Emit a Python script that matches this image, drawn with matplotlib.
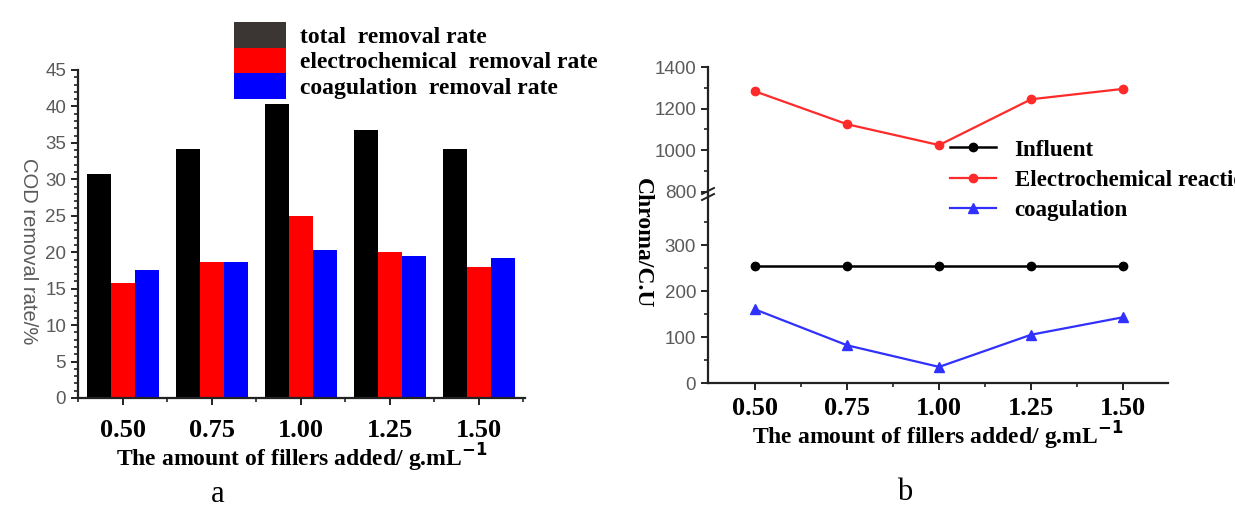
import matplotlib
matplotlib.use("Agg")
import matplotlib.pyplot as plt
import numpy as np
from matplotlib.ticker import MultipleLocator, FixedLocator

# data (a): COD removal rate / %
fillers = [0.50, 0.75, 1.00, 1.25, 1.50]
tick_labels = ["0.50", "0.75", "1.00", "1.25", "1.50"]
total_rate = [30.8, 34.1, 40.3, 36.7, 34.1]
electro_rate = [15.8, 18.6, 25.0, 20.0, 18.0]
coag_rate = [17.6, 18.6, 20.3, 19.5, 19.2]

# data (b): chroma / C.U
influent = [255, 255, 255, 255, 255]
electro_chroma = [1283, 1125, 1025, 1245, 1295]
coag_chroma = [160, 82, 35, 105, 143]

SERIF = "Liberation Serif"
SANS = "Liberation Sans"
GRAY = "#5a5a5a"

fig = plt.figure(figsize=(12.35, 5.08), dpi=100)
W, H = 1235, 508


def px_axes(x0, y0, x1, y1):
    # pixel box (top-left origin) -> figure fraction
    return fig.add_axes([x0 / W, 1 - y1 / H, (x1 - x0) / W, (y1 - y0) / H])


def style_axis(ax):
    for s in ["top", "right"]:
        ax.spines[s].set_visible(False)
    for s in ["left", "bottom"]:
        ax.spines[s].set_linewidth(1.6)
        ax.spines[s].set_color("#222222")
    ax.tick_params(which="major", direction="out", length=5, width=1.4, color="#222222")
    ax.tick_params(which="minor", direction="out", length=3, width=1.2, color="#222222")
    ax.tick_params(axis="y", labelsize=13.5, labelcolor=GRAY)
    for lab in ax.get_yticklabels():
        lab.set_fontfamily(SANS)


# ---------------- (a) bar chart ----------------
axa = px_axes(78, 70, 525, 398)
w = 0.067
x = np.array(fillers)
axa.bar(x - w, total_rate, w, color="black", label="total  removal rate")
axa.bar(x, electro_rate, w, color="#ff0000", label="electrochemical  removal rate")
axa.bar(x + w, coag_rate, w, color="#0000ff", label="coagulation  removal rate")
axa.set_xlim(0.374, 1.63)
axa.set_ylim(0, 45)
axa.yaxis.set_major_locator(MultipleLocator(5))
axa.yaxis.set_minor_locator(MultipleLocator(1))
axa.xaxis.set_major_locator(FixedLocator(fillers))
axa.xaxis.set_minor_locator(FixedLocator([0.375, 0.625, 0.875, 1.125, 1.375, 1.625]))
style_axis(axa)
axa.set_xticklabels(tick_labels, fontfamily=SERIF, fontweight="bold", fontsize=19)
axa.tick_params(axis="x", pad=10)
axa.set_xlabel("The amount of fillers added/ g.mL$^{\\mathbf{-1}}$", fontfamily=SERIF,
               fontweight="bold", fontsize=17, labelpad=0)
fig.text(28 / W, 1 - 251 / H, "COD removal rate/%", fontfamily=SANS, color=GRAY,
         fontsize=14.5, rotation=270, ha="center", va="center")
leg = axa.legend(loc="upper left", bbox_to_anchor=(222 / W, 1 - 10 / H),
                 bbox_transform=fig.transFigure, frameon=False, borderpad=0,
                 handlelength=2.2, handleheight=1.3, labelspacing=0.0, handletextpad=0.6,
                 prop={"family": SERIF, "weight": "bold", "size": 17})
leg.legend_handles[0].set_facecolor("#3b3634")
fig.text(218 / W, 1 - 495 / H, "a", fontfamily=SERIF, fontsize=22, ha="center", va="center")

# ---------------- (b) line chart with broken y axis ----------------
axt = px_axes(708, 67, 1168, 194)
axb = px_axes(708, 194, 1168, 383)

for ax in (axt, axb):
    ax.plot(fillers, influent, color="black", lw=1.8, marker="o", ms=6, label="Influent")
    ax.plot(fillers, electro_chroma, color="#ff2a2a", lw=1.6, marker="o", ms=6,
            label="Electrochemical reaction")
    ax.plot(fillers, coag_chroma, color="#3030ff", lw=1.6, marker="^", ms=7,
            label="coagulation")
    ax.set_xlim(0.372, 1.622)
    ax.xaxis.set_major_locator(FixedLocator(fillers))
    ax.xaxis.set_minor_locator(FixedLocator([0.625, 0.875, 1.125, 1.375, 1.625]))
    style_axis(ax)

axt.set_ylim(790, 1400)
axt.yaxis.set_major_locator(FixedLocator([800, 1000, 1200, 1400]))
axt.yaxis.set_minor_locator(FixedLocator([900, 1100, 1300]))
axt.spines["bottom"].set_visible(False)
axt.tick_params(axis="x", which="both", bottom=False, labelbottom=False)

axb.set_ylim(0, 411)
axb.yaxis.set_major_locator(FixedLocator([0, 100, 200, 300]))
axb.yaxis.set_minor_locator(FixedLocator([50, 150, 250, 350]))
for ax in (axt, axb):
    for lab in ax.get_yticklabels():
        lab.set_fontfamily(SANS)
axb.set_xticklabels(tick_labels, fontfamily=SERIF, fontweight="bold", fontsize=19)
axb.tick_params(axis="x", pad=5)
axb.set_xlabel("The amount of fillers added/ g.mL$^{\\mathbf{-1}}$", fontfamily=SERIF,
               fontweight="bold", fontsize=17, labelpad=0)
fig.text(642 / W, 1 - 243 / H, "Chroma/C.U", fontfamily=SERIF, fontweight="bold",
         fontsize=17, rotation=270, ha="center", va="center")

# break marks on the y axis
for dy in (-3, 3):
    fig.add_artist(plt.Line2D([(708 - 6) / W, (708 + 6) / W],
                              [1 - (194 + dy + 3) / H, 1 - (194 + dy - 3) / H],
                              color="#222222", lw=1.4))

axb.legend(loc="upper left", bbox_to_anchor=(939 / W, 1 - 128 / H),
           bbox_transform=fig.transFigure, frameon=False, borderpad=0,
           handlelength=2.0, labelspacing=0.4, handletextpad=0.8,
           prop={"family": SERIF, "weight": "bold", "size": 16.5})
fig.text(905 / W, 1 - 493 / H, "b", fontfamily=SERIF, fontsize=22, ha="center", va="center")

fig.savefig("out.png", dpi=100)
